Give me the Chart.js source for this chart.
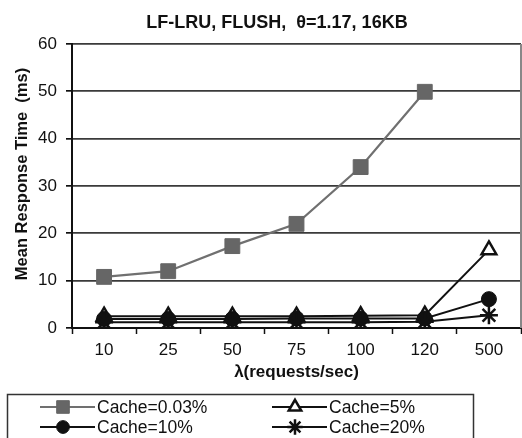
<!DOCTYPE html>
<html>
<head>
<meta charset="utf-8">
<script src="https://cdn.jsdelivr.net/npm/chart.js@4"></script>
<style>
html,body{margin:0;padding:0;background:#fff;}
#wrap{width:522px;height:438px;position:relative;}
</style>
</head>
<body>
<div id="wrap"><canvas id="c" width="522" height="438"></canvas></div>
<script>
const categories = ['10', '25', '50', '75', '100', '120', '500'];
const cache003 = [10.8, 12.0, 17.3, 22.0, 34.0, 49.9, null];
const cache5 = [2.5, 2.5, 2.5, 2.5, 2.6, 2.7, 16.5];
const cache10 = [1.9, 1.9, 1.9, 2.0, 2.0, 2.0, 6.1];
const cache20 = [1.2, 1.2, 1.2, 1.2, 1.2, 1.3, 2.7];
const seriesNames = ['Cache=0.03%', 'Cache=5%', 'Cache=10%', 'Cache=20%'];
const chartTitle = 'LF-LRU, FLUSH,  \u03b8=1.17, 16KB';
const yTitle = 'Mean Response Time  (ms)';
const xTitle = '\u03bb(requests/sec)';

const FONT = '"Liberation Sans", Arial, sans-serif';

const overlay = {
  id: 'overlay',
  beforeDatasetsDraw(chart) {
    const ctx = chart.ctx, a = chart.chartArea;
    ctx.save();
    ctx.strokeStyle = '#888';
    ctx.lineWidth = 2;
    ctx.beginPath();
    ctx.moveTo(a.right, a.top);
    ctx.lineTo(a.right, a.bottom);
    ctx.stroke();
    ctx.restore();
  },
  afterDraw(chart) {
    const ctx = chart.ctx;
    ctx.save();
    ctx.fillStyle = '#111';
    ctx.textAlign = 'center';
    ctx.textBaseline = 'middle';
    ctx.font = 'bold 18px ' + FONT;
    ctx.fillText(chartTitle, 277, 23);
    ctx.save();
    ctx.translate(22, 174);
    ctx.rotate(-Math.PI / 2);
    ctx.font = 'bold 16.5px ' + FONT;
    ctx.fillText(yTitle, 0, 0);
    ctx.restore();

    // legend box
    ctx.strokeStyle = '#333';
    ctx.lineWidth = 1.5;
    ctx.strokeRect(7.5, 394.5, 466, 60);
    const pos = [[40, 407], [272, 407], [40, 427], [272, 427]];
    chart.data.datasets.forEach((ds, i) => {
      const [x0, y] = pos[i];
      ctx.strokeStyle = ds.borderColor;
      ctx.lineWidth = 2;
      ctx.beginPath();
      ctx.moveTo(x0, y);
      ctx.lineTo(x0 + 55, y);
      ctx.stroke();
      ctx.fillStyle = ds.pointBackgroundColor;
      ctx.strokeStyle = ds.pointBorderColor;
      ctx.lineWidth = ds.pointBorderWidth;
      Chart.helpers.drawPoint(ctx, {pointStyle: ds.pointStyle, radius: ds.pointRadius * 0.85, borderWidth: ds.pointBorderWidth, rotation: 0}, x0 + 23, y);
      ctx.fillStyle = '#111';
      ctx.textAlign = 'left';
      ctx.font = '17.5px ' + FONT;
      ctx.fillText(ds.label, x0 + 57, y + 1);
    });
    ctx.restore();
  }
};

new Chart(document.getElementById('c'), {
  type: 'line',
  data: {
    labels: categories,
    datasets: [
      {label: seriesNames[0], data: cache003, order: 0, borderColor: '#707070', borderWidth: 2.2,
       pointStyle: 'rect', pointRadius: 10.5, pointBackgroundColor: '#666', pointBorderColor: '#666', pointBorderWidth: 1},
      {label: seriesNames[1], data: cache5, order: 3, borderColor: '#111', borderWidth: 2,
       pointStyle: 'triangle', pointRadius: 8.5, pointBackgroundColor: '#fff', pointBorderColor: '#111', pointBorderWidth: 2.5},
      {label: seriesNames[2], data: cache10, order: 2, borderColor: '#111', borderWidth: 2,
       pointStyle: 'circle', pointRadius: 7.5, pointBackgroundColor: '#111', pointBorderColor: '#111', pointBorderWidth: 1},
      {label: seriesNames[3], data: cache20, order: 1, borderColor: '#111', borderWidth: 2,
       pointStyle: 'star', pointRadius: 9, pointBackgroundColor: '#111', pointBorderColor: '#111', pointBorderWidth: 2.5}
    ]
  },
  options: {
    responsive: false,
    animation: false,
    layout: {autoPadding: false, padding: {top: 44, right: 1, left: 0, bottom: 0}},
    plugins: {legend: {display: false}, title: {display: false}, tooltip: {enabled: false}},
    elements: {line: {tension: 0}},
    scales: {
      x: {
        type: 'category',
        offset: true,
        afterFit(s) { s.height = 110; s.paddingLeft = 0; s.paddingRight = 0; },
        grid: {drawOnChartArea: false, drawTicks: true, tickLength: 6, tickColor: '#111', tickWidth: 1.5, offset: true},
        border: {display: true, color: '#111', width: 2},
        ticks: {color: '#111', font: {family: FONT, size: 17}, padding: 6, maxRotation: 0},
        title: {display: true, text: xTitle, color: '#111', font: {family: FONT, size: 17, weight: 'bold'}, padding: {top: 0, bottom: 55}}
      },
      y: {
        min: 0, max: 60,
        afterFit(s) { s.width = 72; s.paddingTop = 0; s.paddingBottom = 0; },
        grid: {color: '#3a3a3a', lineWidth: 1.7, drawTicks: true, tickLength: 6, tickColor: '#111'},
        border: {display: true, color: '#111', width: 2},
        ticks: {stepSize: 10, color: '#111', font: {family: FONT, size: 17}, padding: 9},
        title: {display: false}
      }
    }
  },
  plugins: [overlay]
});
</script>
</body>
</html>
